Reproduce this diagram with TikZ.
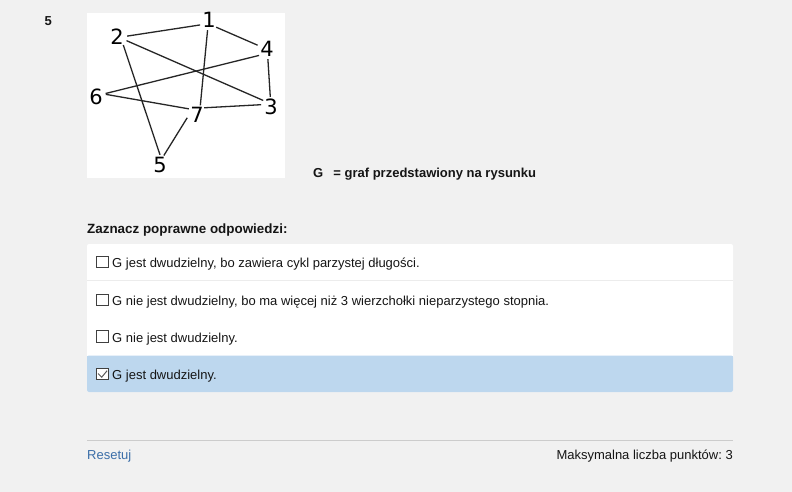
\documentclass[tikz,border=0pt]{standalone}
\usepackage{fontspec}
\setmainfont{Liberation Sans}
\newfontfamily\handfont{DejaVu Sans}
\definecolor{pagebg}{HTML}{F1F1F1}
\definecolor{rowblue}{HTML}{BDD7EE}
\definecolor{linkblue}{HTML}{3B6EA8}
\definecolor{divgray}{HTML}{ECECEC}
\definecolor{footgray}{HTML}{CCCCCC}
\definecolor{txt}{HTML}{151515}
\begin{document}
\frenchspacing
\begin{tikzpicture}[x=1pt,y=-1pt,
  vx/.style={circle,minimum size=20pt,inner sep=0pt},
  vlabel/.style={font=\handfont\fontsize{21}{21}\selectfont,inner sep=0pt},
  edge/.style={line width=1.3pt,black!85},
  body/.style={font=\fontsize{13}{15}\selectfont,text=txt,inner sep=0pt},
  bodybold/.style={font=\bfseries\fontsize{13}{15}\selectfont,text=txt,inner sep=0pt},
  cbox/.style={draw=black!75,fill=white,line width=0.8pt,minimum size=11.5pt,inner sep=0pt}]
\useasboundingbox (0,0) rectangle (792,492);
\fill[pagebg] (0,0) rectangle (792,492);
% question number
\node[bodybold,anchor=base west] (qnum) at (44.5,26) {5};
% picture area
\fill[white] (87,13) rectangle (285,178);
\node[vx,label={[vlabel]center:1}] (v1) at (209,20) {};
\node[vx,label={[vlabel]center:2}] (v2) at (117,37) {};
\node[vx,label={[vlabel]center:4}] (v4) at (267,49) {};
\node[vx,label={[vlabel]center:6}] (v6) at (96,97) {};
\node[vx,label={[vlabel]center:3}] (v3) at (271,107) {};
\node[vx,label={[vlabel]center:7}] (v7) at (197,115) {};
\node[vx,label={[vlabel]center:5}] (v5) at (160,165) {};
\draw[edge] (v1.209) -- (v2.5);
\draw[edge] (v1.-45) -- (v4.158);
\draw[edge] (v1.-98) -- (v7.71);
\draw[edge] (v2.-21) -- (v3.140);
\draw[edge] (v2.-52) -- (v5.90);
\draw[edge] (v4.-85) -- (v3.94);
\draw[edge] (v4.219) -- (v6.20);
\draw[edge] (v6.15) -- (v7.143);
\draw[edge] (v7.45) -- (v3.167);
\draw[edge] (v7.196) -- (v5.68);
% definition text
\node[bodybold,anchor=base west] (gdef) at (313,177.5) {G\hspace{6.5pt} = graf przedstawiony na rysunku};
\node[bodybold,anchor=base west,font=\bfseries\fontsize{13.4}{15}\selectfont] (prompt) at (87,233.5) {Zaznacz poprawne odpowiedzi:};
% answers box
\fill[white,rounded corners=2pt] (87,244) rectangle (733,392);
\fill[rowblue,rounded corners=2pt] (87,355.5) rectangle (733,392);
\fill[rowblue] (87,355.5) rectangle (733,362);
\draw[divgray,line width=1pt] (87,280.5) -- (733,280.5);
\node[cbox] (cb1) at (102.5,262) {};
\node[cbox] (cb2) at (102.5,300) {};
\node[cbox] (cb3) at (102.5,336.5) {};
\node[cbox] (cb4) at (102.5,374) {};
\draw[black!65,line width=1pt] ([shift={(-4.5,-0.5)}]cb4.center) -- ([shift={(-0.8,3.2)}]cb4.center) -- ([shift={(4.6,-3.3)}]cb4.center);
\node[body,anchor=base west] (a1) at (112,267.5) {G jest dwudzielny, bo zawiera cykl parzystej długości.};
\node[body,anchor=base west] (a2) at (112,305) {G nie jest dwudzielny, bo ma więcej niż 3 wierzchołki nieparzystego stopnia.};
\node[body,anchor=base west] (a3) at (112,342) {G nie jest dwudzielny.};
\node[body,anchor=base west] (a4) at (112,379) {G jest dwudzielny.};
% footer
\draw[footgray,line width=1pt] (87,440) -- (733,440);
\node[body,anchor=base west,text=linkblue] (reset) at (87,459.5) {Resetuj};
\node[body,anchor=base east] (maxpts) at (733,459.5) {Maksymalna liczba punktów: 3};
\end{tikzpicture}
\end{document}
